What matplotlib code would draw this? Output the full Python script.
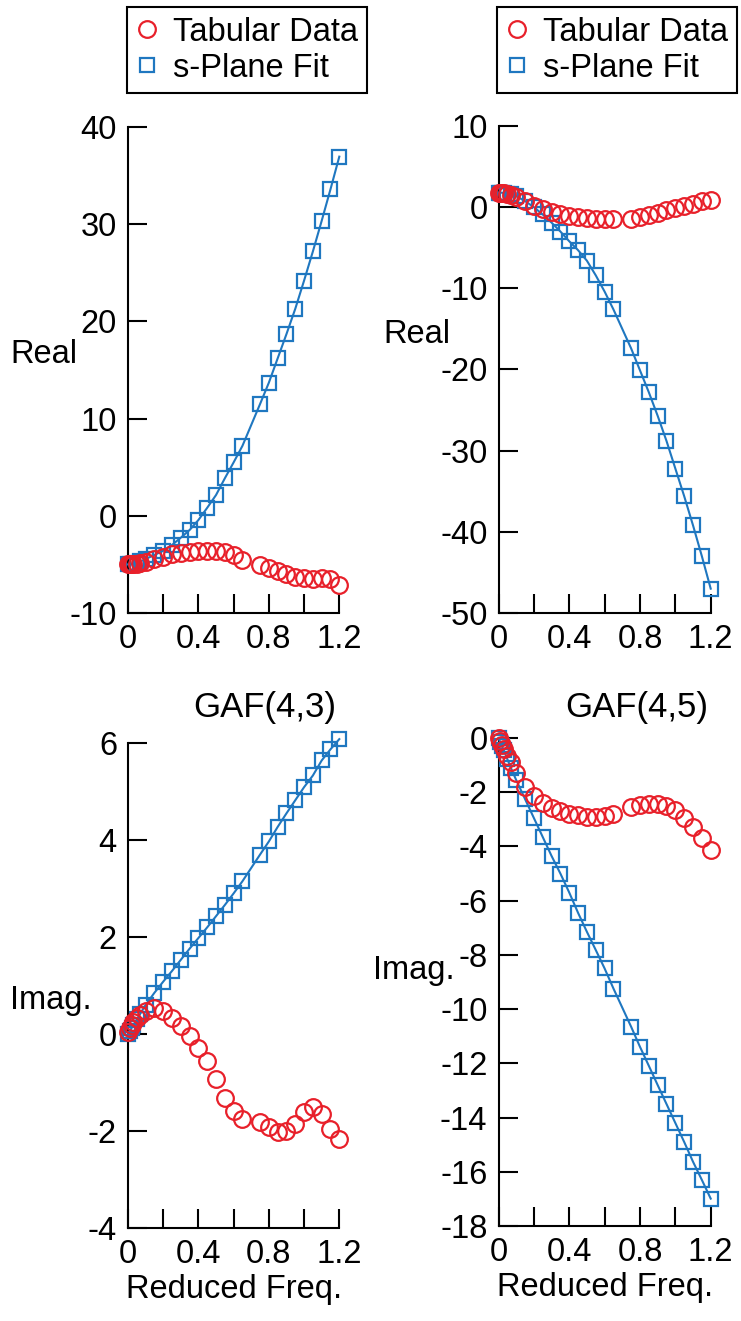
import matplotlib
matplotlib.use("Agg")
import matplotlib.pyplot as plt
from matplotlib.lines import Line2D

plt.rcParams['font.family'] = ['Liberation Sans', 'DejaVu Sans']
plt.rcParams['axes.unicode_minus'] = False

# reduced frequency grid (shared by tabular data and fit)
k = [0, 0.01, 0.02, 0.03, 0.05, 0.07, 0.1, 0.15, 0.2, 0.25, 0.3, 0.35, 0.4, 0.45,
     0.5, 0.55, 0.6, 0.65, 0.75, 0.8, 0.85, 0.9, 0.95, 1.0, 1.05, 1.1, 1.15, 1.2]

# GAF(4,3)
re43_tab = [-5.0, -5.0, -5.0, -4.98, -4.95, -4.9, -4.75, -4.45, -4.2, -3.95, -3.8, -3.7, -3.62, -3.6,
            -3.62, -3.75, -4.0, -4.5, -5.1, -5.4, -5.65, -6.0, -6.27, -6.45, -6.5, -6.4, -6.5, -7.1]
re43_fit = [-5.0, -5.0, -4.97, -4.93, -4.85, -4.7, -4.45, -4.03, -3.6, -3.0, -2.25, -1.46, -0.43, 0.83,
            2.14, 3.86, 5.5, 7.2, 11.5, 13.7, 16.2, 18.7, 21.3, 24.2, 27.2, 30.35, 33.6, 36.95]
im43_tab = [0.05, 0.12, 0.18, 0.24, 0.33, 0.4, 0.47, 0.53, 0.47, 0.33, 0.16, -0.04, -0.28, -0.55,
            -0.93, -1.31, -1.58, -1.75, -1.82, -1.92, -2.02, -2.0, -1.85, -1.61, -1.51, -1.65, -1.96, -2.16]
im43_fit = [0.0, 0.06, 0.12, 0.18, 0.3, 0.42, 0.6, 0.85, 1.08, 1.3, 1.53, 1.76, 1.98, 2.2,
            2.43, 2.66, 2.9, 3.15, 3.7, 3.97, 4.27, 4.55, 4.82, 5.09, 5.33, 5.64, 5.87, 6.08]

# GAF(4,5)
re45_tab = [1.8, 1.8, 1.75, 1.7, 1.6, 1.45, 1.2, 0.7, 0.2, -0.2, -0.6, -0.9, -1.1, -1.25,
            -1.35, -1.45, -1.5, -1.5, -1.4, -1.2, -1.0, -0.7, -0.4, -0.1, 0.2, 0.45, 0.7, 0.9]
re45_fit = [1.8, 1.8, 1.78, 1.75, 1.68, 1.58, 1.35, 0.75, 0.0, -0.9, -1.9, -3.0, -4.2, -5.3,
            -6.6, -8.4, -10.4, -12.6, -17.4, -20.1, -22.8, -25.7, -28.8, -32.2, -35.6, -39.2, -43.0, -47.0]
im45_tab = [0.0, -0.1, -0.25, -0.4, -0.65, -0.9, -1.3, -1.8, -2.15, -2.4, -2.58, -2.7, -2.8, -2.85,
            -2.9, -2.9, -2.88, -2.8, -2.55, -2.47, -2.42, -2.42, -2.5, -2.65, -2.95, -3.3, -3.7, -4.13]
im45_fit = [0.0, -0.15, -0.3, -0.45, -0.78, -1.1, -1.55, -2.25, -2.95, -3.65, -4.35, -5.0, -5.7, -6.45,
            -7.15, -7.82, -8.5, -9.24, -10.65, -11.39, -12.09, -12.8, -13.5, -14.2, -14.9, -15.63, -16.3, -16.99]

xticks = [0, 0.2, 0.4, 0.6, 0.8, 1.0, 1.2]
xticklabels = ['0', '', '0.4', '', '0.8', '', '1.2']

red = '#E8202A'
blue = '#1F77C0'
FS = 23.5
CMS, SMS, MEW = 12, 10, 1.6

W, H = 741, 1321
fig = plt.figure(figsize=(W / 100, H / 100), dpi=100)


def make_ax(x0, x1, ytop, ybot):
    return fig.add_axes([x0 / W, 1 - ybot / H, (x1 - x0) / W, (ybot - ytop) / H])


def style(ax, yticks, ylim):
    for s in ['top', 'right']:
        ax.spines[s].set_visible(False)
    for s in ['left', 'bottom']:
        ax.spines[s].set_linewidth(1.5)
    ax.set_xlim(0, 1.2)
    ax.set_ylim(*ylim)
    ax.set_xticks(xticks)
    ax.set_xticklabels(xticklabels)
    ax.set_yticks(yticks)
    ax.tick_params(direction='in', length=14, width=1.5, labelsize=FS, pad=8)


def draw(ax, tab, fit):
    ax.plot(k, fit, '-', color=blue, lw=1.5, marker='s', ms=SMS, mfc='none',
            mec=blue, mew=MEW, clip_on=False, zorder=3)
    ax.plot(k, tab, 'none', marker='o', ms=CMS, mfc='none', mec=red, mew=MEW,
            clip_on=False, zorder=4)


ax1 = make_ax(128, 339.3, 127, 613)
draw(ax1, re43_tab, re43_fit)
style(ax1, [-10, 0, 10, 20, 30, 40], (-10, 40))

ax2 = make_ax(498.5, 710.7, 126, 613)
draw(ax2, re45_tab, re45_fit)
style(ax2, [-50, -40, -30, -20, -10, 0, 10], (-50, 10))

ax3 = make_ax(128, 339.3, 743, 1228)
draw(ax3, im43_tab, im43_fit)
style(ax3, [-4, -2, 0, 2, 4, 6], (-4, 6))

ax4 = make_ax(498.5, 710.7, 738, 1226)
draw(ax4, im45_tab, im45_fit)
style(ax4, [-18, -16, -14, -12, -10, -8, -6, -4, -2, 0], (-18, 0))

for ax in (ax3, ax4):
    ax.set_xlabel('Reduced Freq.', fontsize=FS, labelpad=3)

fig.text(10 / W, 1 - 355 / H, 'Real', fontsize=FS, va='center', ha='left')
fig.text(383 / W, 1 - 335 / H, 'Real', fontsize=FS, va='center', ha='left')
fig.text(10 / W, 1 - 1000 / H, 'Imag.', fontsize=FS, va='center', ha='left')
fig.text(373 / W, 1 - 970 / H, 'Imag.', fontsize=FS, va='center', ha='left')

fig.text(336 / W, 1 - 707 / H, 'GAF(4,3)', fontsize=25, va='center', ha='right')
fig.text(708 / W, 1 - 707 / H, 'GAF(4,5)', fontsize=25, va='center', ha='right')

handles = [Line2D([], [], ls='none', marker='o', ms=CMS, mfc='none', mec=red, mew=MEW),
           Line2D([], [], ls='none', marker='s', ms=SMS, mfc='none', mec=blue, mew=MEW)]
labels = ['Tabular Data', 's-Plane Fit']
for ax, lx in ((ax1, 127), (ax2, 497)):
    leg = ax.legend(handles, labels, loc='upper left', bbox_to_anchor=(lx / W, 1 - 7 / H),
                    bbox_transform=fig.transFigure, borderaxespad=0, fancybox=False,
                    edgecolor='black', framealpha=1, fontsize=FS, handlelength=0.6,
                    handletextpad=0.5, borderpad=0.3, labelspacing=0.15, numpoints=1)
    leg.get_frame().set_linewidth(1.5)

fig.savefig('out.png', dpi=100)
